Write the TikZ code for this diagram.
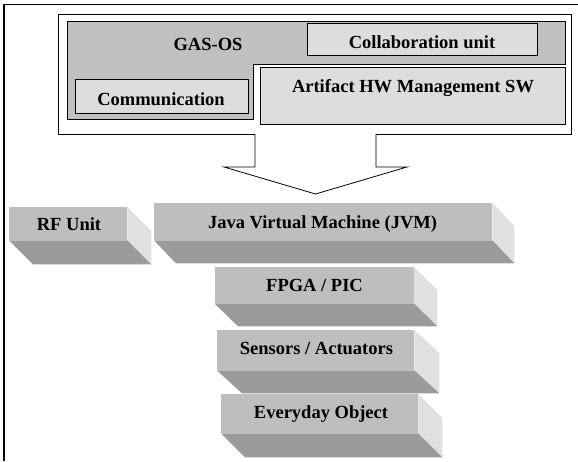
\documentclass[tikz,border=0pt]{standalone}
\usepackage{fontspec}
\setmainfont{Liberation Serif}
\usetikzlibrary{calc}
\definecolor{gasgray}{HTML}{C0C0C0}
\definecolor{unitgray}{HTML}{DDDDDD}
\definecolor{frontgray}{HTML}{BEBEBE}
\definecolor{bandgray}{HTML}{9B9B9B}
\definecolor{sidegray}{HTML}{E0E0E0}
\tikzset{
  lbl/.style={font=\fontsize{18.5}{20}\selectfont\bfseries, anchor=base, inner sep=0pt},
  unitbox/.style={draw=black, line width=0.9pt, fill=unitgray, inner sep=0pt, anchor=north west},
  osbox/.style={draw=black, line width=0.9pt, fill=white, inner sep=0pt, anchor=north west},
  frontface/.style={fill=frontgray, inner sep=0pt, anchor=north west},
  sideface/.style={fill=sidegray},
  bandface/.style={fill=bandgray},
}
% \slabbox{name}{x1}{y1}{w}{h}{dx}{dy}{text}{(tx,ty)}
\newcommand{\slabbox}[9]{%
  \node[frontface, minimum width=#4pt, minimum height=#5pt] (#1) at (#2,#3) {};
  \fill[sideface] (#1.north east) -- ++(#6,#7) -- ($(#1.south east)+(#6,#7)$) -- (#1.south east) -- cycle;
  \fill[bandface] (#1.south west) -- (#1.south east) -- ($(#1.south east)+(#6,#7)$) -- ($(#1.south west)+(#6,#7)$) -- cycle;
  \node[lbl] (#1-t) at #9 {#8};
}
\begin{document}
\begin{tikzpicture}[x=1pt,y=-1pt]
\useasboundingbox (0,0) rectangle (578,461);
% outer frame
\coordinate (fbl) at (4,461);
\coordinate (ftl) at (4,4.5);
\coordinate (ftr) at (578,4.5);
\draw[line width=1.2pt] (fbl) -- (ftl) -- (ftr);
% OS box
\node[osbox, minimum width=513pt, minimum height=120pt] (os) at (58,14) {};
% GAS-OS region
\fill[gasgray, draw=black, line width=0.8pt] (67,21) -- (565,21) -- (565,64) -- (253,64) -- (253,119) -- (67,119) -- cycle;
\node[lbl] (gasos) at (208,50) {GAS-OS};
\node[unitbox, minimum width=230pt, minimum height=32pt] (collab) at (307,23) {};
\node[lbl] (collab-t) at (422,48) {Collaboration unit};
\node[unitbox, minimum width=173pt, minimum height=34pt] (comm) at (75,79) {};
\node[lbl] (comm-t) at (161,105) {Communication};
\node[unitbox, minimum width=305pt, minimum height=57pt] (art) at (260,67) {};
\node[lbl] (art-t) at (413,92) {Artifact HW Management SW};
% big arrow
\coordinate (al) at (255,134);
\coordinate (ar) at (376,134);
\coordinate (tip) at (315.5,194);
\draw[line width=0.8pt, fill=white] (al) -- (255,167) -- (224,167) -- (tip) -- (407,167) -- (376,167) -- (ar);
% slabs
\slabbox{rf}{9}{207}{118}{33}{24}{24}{RF Unit}{(69,230)}
\slabbox{jvm}{154}{203}{338}{37}{22}{23}{Java Virtual Machine (JVM)}{(322.5,228)}
\slabbox{fpga}{214.5}{267}{199}{36}{23.5}{23}{FPGA / PIC}{(314.5,291)}
\slabbox{sens}{217}{330}{197}{40}{25}{23}{Sensors / Actuators}{(316.5,354)}
\slabbox{obj}{221}{394}{197}{39}{24}{24}{Everyday Object}{(321,418)}
\end{tikzpicture}
\end{document}
